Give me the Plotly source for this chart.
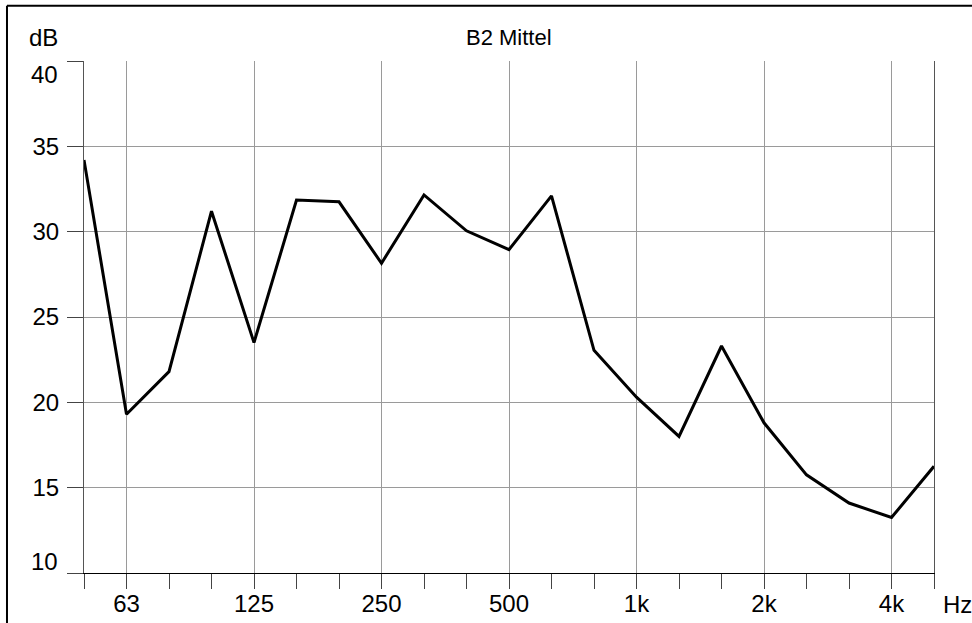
import plotly.graph_objects as go

# Third-octave band centre frequencies (Hz) and their axis labels
bands = ["50", "63", "80", "100", "125", "160", "200", "250", "315", "400",
         "500", "630", "800", "1k", "1.25k", "1.6k", "2k", "2.5k", "3.15k", "4k", "5k"]
labelled_bands = ["63", "125", "250", "500", "1k", "2k", "4k"]

# Averaged level per band (dB)
level_db = [34.2, 19.3, 21.8, 31.2, 23.5, 31.85, 31.75, 28.15, 32.15, 30.05,
            28.95, 32.1, 23.05, 20.3, 18.0, 23.3, 18.8, 15.75, 14.1, 13.25, 16.25]

y_ticks = [10, 15, 20, 25, 30, 35, 40]
y_min, y_max = y_ticks[0], y_ticks[-1]

FONT = "Liberation Sans, Arial, sans-serif"
TICK_SIZE = 24

xpos = list(range(len(bands)))
major_pos = [bands.index(b) for b in labelled_bands]

# Inner tick labels sit on their gridlines; the two end labels are nudged inward
y_ticktext = ["" if v in (y_min, y_max) else str(v) for v in y_ticks]

fig = go.Figure()
fig.add_trace(go.Scatter(
    x=xpos, y=level_db, mode="lines",
    line=dict(color="black", width=3),
    hoverinfo="skip", showlegend=False,
))

fig.update_xaxes(
    range=[0, len(bands) - 1], automargin=False,
    tickmode="array", tickvals=major_pos, ticktext=labelled_bands,
    ticks="outside", ticklen=15, tickwidth=1, tickcolor="#444",
    showgrid=True, gridcolor="#9a9a9a", gridwidth=1,
    minor=dict(tickmode="array", tickvals=xpos, ticks="outside",
               ticklen=15, tickwidth=1, tickcolor="#444", showgrid=False),
    showline=True, linecolor="black", linewidth=1,
    zeroline=False, ticklabelstandoff=-6,
    tickfont=dict(family=FONT, size=TICK_SIZE, color="black"),
)
fig.update_yaxes(
    range=[y_min, y_max], automargin=False,
    tickmode="array", tickvals=y_ticks, ticktext=y_ticktext,
    ticks="outside", ticklen=16, tickwidth=1, tickcolor="#444",
    showgrid=True, gridcolor="#9a9a9a", gridwidth=1,
    showline=True, linecolor="#555", linewidth=1, mirror=True,
    zeroline=False, ticklabelstandoff=3,
    tickfont=dict(family=FONT, size=TICK_SIZE, color="black"),
)

end_labels = [
    dict(text=str(v), xref="paper", yref="y", x=0, y=v,
         xanchor="right", yanchor="middle", xshift=-24,
         yshift=(-13 if v == y_max else 12), showarrow=False,
         font=dict(size=TICK_SIZE))
    for v in (y_min, y_max)
]

fig.update_layout(
    width=972, height=623,
    margin=dict(l=84, r=38, t=61, b=50),
    paper_bgcolor="white", plot_bgcolor="white",
    font=dict(family=FONT, color="black"),
    annotations=end_labels + [
        dict(text="B2 Mittel", xref="paper", yref="paper", x=0.5, y=1.0,
             xanchor="center", yanchor="middle", yshift=24, showarrow=False,
             font=dict(size=22)),
        dict(text="dB", xref="paper", yref="paper", x=0, y=1.0,
             xanchor="right", yanchor="middle", xshift=-24, yshift=24,
             showarrow=False, font=dict(size=TICK_SIZE)),
        dict(text="Hz", xref="paper", yref="paper", x=1.0, y=0,
             xanchor="left", yanchor="middle", xshift=7, yshift=-31,
             showarrow=False, font=dict(size=TICK_SIZE)),
    ],
    shapes=[
        dict(type="line", xref="paper", yref="paper",
             x0=-0.0906, x1=-0.0906, y0=-0.2, y1=1.108,
             line=dict(color="black", width=2)),
        dict(type="line", xref="paper", yref="paper",
             x0=-0.0906, x1=1.1, y0=1.108, y1=1.108,
             line=dict(color="black", width=2)),
    ],
)

fig.write_html("out.html")
